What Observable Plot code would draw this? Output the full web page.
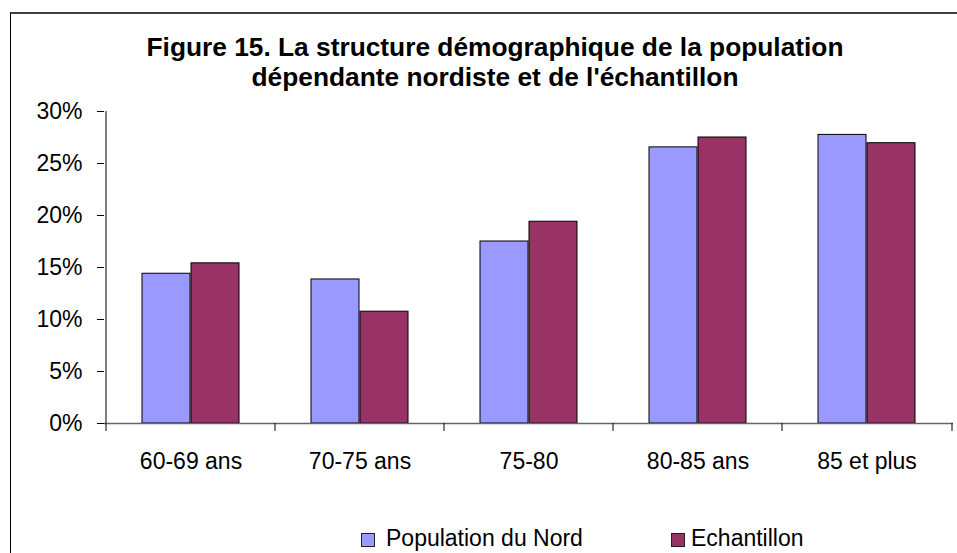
<!DOCTYPE html>
<html>
<head>
<meta charset="utf-8">
<script src="https://cdn.jsdelivr.net/npm/d3@7"></script>
<script src="https://cdn.jsdelivr.net/npm/@observablehq/plot@0.6"></script>
<style>
  html, body { margin: 0; padding: 0; background: #fff; overflow: hidden; }
  body { width: 957px; height: 553px; position: relative; font-family: "Liberation Sans", Arial, sans-serif; }
  #border { position: absolute; left: 10px; top: 12px; width: 1200px; height: 800px;
            border-top: 2px solid #404040; border-left: 1px solid #000; box-sizing: border-box; }
  .title { position: absolute; left: 0; width: 990px; text-align: center; height: 29px; overflow: visible;
           font-size: 26.3px; font-weight: bold; line-height: 29px; color: #000; white-space: nowrap; }
  #t1 { top: 33.2px; }
  #t2 { top: 62.7px; }
  #chart { position: absolute; left: 0; top: 95px; }
  .leg { position: absolute; top: 527px; font-size: 23px; line-height: 23px; color: #000; white-space: nowrap; }
  .sw { position: absolute; top: 533px; width: 14px; height: 14px; box-sizing: border-box; border: 1px solid #222; }
</style>
</head>
<body>
<div id="border"></div>
<div class="title" id="t1">Figure 15. La structure démographique de la population</div>
<div class="title" id="t2">dépendante nordiste et de l'échantillon</div>
<div id="chart"></div>
<div class="sw" id="sw1"></div><div class="leg" id="lg1"></div>
<div class="sw" id="sw2"></div><div class="leg" id="lg2"></div>
<script>
const categories = ["60-69 ans", "70-75 ans", "75-80", "80-85 ans", "85 et plus"];
const seriesNames = ["Population du Nord", "Echantillon"];
const nord = [14.4, 13.85, 17.5, 26.55, 27.75];
const echantillon = [15.4, 10.75, 19.4, 27.5, 26.95];
const yTicks = [0, 5, 10, 15, 20, 25, 30];
const colors = ["#9999FF", "#993366"];

const dataNord = categories.map((c, i) => ({cat: c, value: nord[i]}));
const dataEch = categories.map((c, i) => ({cat: c, value: echantillon[i]}));

const chart = Plot.plot({
  width: 957,
  height: 389,
  marginLeft: 104,
  marginRight: 4,
  marginTop: 16,
  marginBottom: 61,
  style: {fontFamily: "'Liberation Sans', Arial, sans-serif", fontSize: "23px", color: "#000", background: "transparent", overflow: "visible"},
  x: {domain: categories, padding: 0, axis: null, label: null},
  y: {domain: [0, 30], axis: null, label: null},
  marks: [
    Plot.barY(dataNord, {x: "cat", y: "value", fill: colors[0], stroke: "#000", strokeWidth: 1, insetLeft: 36, insetRight: 85}),
    Plot.barY(dataEch, {x: "cat", y: "value", fill: colors[1], stroke: "#000", strokeWidth: 1, insetLeft: 85, insetRight: 36}),
    Plot.ruleY([0], {stroke: "#666", strokeWidth: 1.5}),
    Plot.ruleX([categories[0]], {dx: -85, stroke: "#000", strokeWidth: 1}),
    Plot.axisY({ticks: yTicks, label: null, tickSize: 7, tickPadding: 15, tickFormat: d => d + "%", stroke: "#000", strokeOpacity: 1, fill: "#000"}),
    Plot.axisX({label: null, tickSize: 0, tickPadding: 29, fill: "#000"}),
    Plot.axisX({label: null, tickSize: 8, dx: -85, tickFormat: () => "", stroke: "#000", strokeOpacity: 1}),
    Plot.axisX({label: null, ticks: [categories[categories.length - 1]], tickSize: 8, dx: 85, tickFormat: () => "", stroke: "#000", strokeOpacity: 1})
  ]
});
document.getElementById("chart").appendChild(chart);

document.getElementById("sw1").style.cssText += `left:361px;background:${colors[0]};`;
document.getElementById("sw2").style.cssText += `left:671px;background:${colors[1]};`;
const l1 = document.getElementById("lg1"); l1.textContent = seriesNames[0]; l1.style.left = "386px";
const l2 = document.getElementById("lg2"); l2.textContent = seriesNames[1]; l2.style.left = "691px";
</script>
</body>
</html>
